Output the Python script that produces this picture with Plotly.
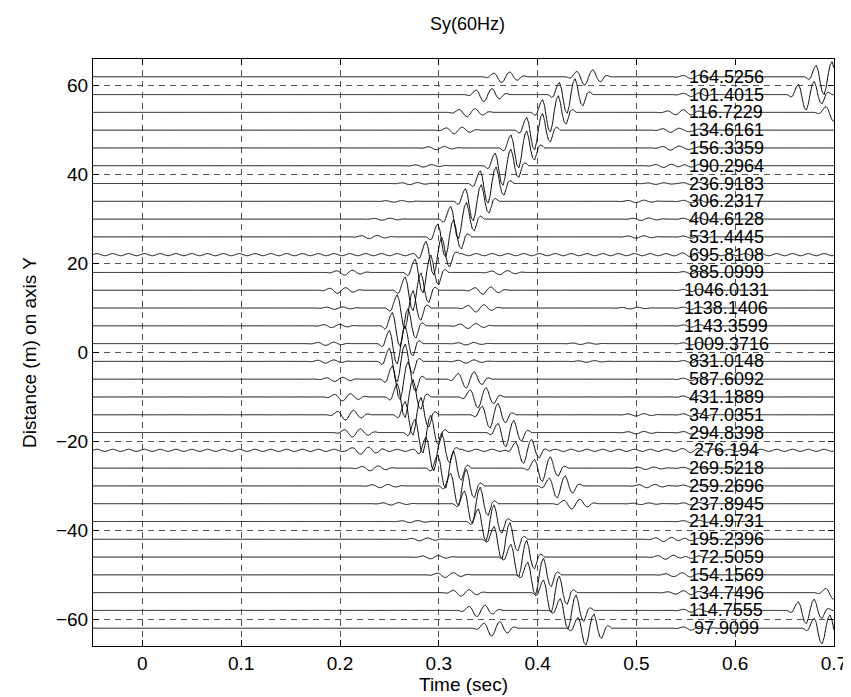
import numpy as np
import plotly.graph_objects as go

# ---------------- data ----------------
offsets = [62, 58, 54, 50, 46, 42, 38, 34, 30, 26, 22, 18, 14, 10, 6, 2,
           -2, -6, -10, -14, -18, -22, -26, -30, -34, -38, -42, -46, -50, -54, -58, -62]

amp_labels = ["164.5256", "101.4015", "116.7229", "134.6161", "156.3359", "190.2964",
              "236.9183", "306.2317", "404.6128", "531.4445", "695.8108", "885.0999",
              "1046.0131", "1138.1406", "1143.3599", "1009.3716", "831.0148", "587.6092",
              "431.1889", "347.0351", "294.8398", "276.194", "269.5218", "259.2696",
              "237.8945", "214.9731", "195.2396", "172.5059", "154.1569", "134.7496",
              "114.7555", "97.9099"]

# normalised wavelet shape, sampled every 2 ms (deepest trough at 20 ms)
wavelet = [0.0, -0.05, -0.15, -0.1, 0.2, 0.5, 0.65, 0.35, -0.3, -0.85, -1.0, -0.6,
           0.1, 0.65, 0.85, 0.5, -0.1, -0.5, -0.6, -0.3, 0.05, 0.15, 0.1, 0.0]
wavelet_dt = 0.002
wavelet_trough = 0.020

# main arrival: trough time (s) and trough depth (m)
main_t = [0.448, 0.430, 0.413, 0.397, 0.381, 0.365, 0.350, 0.335, 0.320, 0.307, 0.295,
          0.284, 0.274, 0.266, 0.261, 0.258, 0.258, 0.261, 0.266, 0.274, 0.284, 0.295,
          0.307, 0.320, 0.334, 0.348, 0.364, 0.381, 0.398, 0.414, 0.431, 0.449]
main_a = [1.9, 4.2, 4.4, 4.4, 4.5, 4.4, 4.4, 4.4, 4.4, 4.5, 4.5, 4.6, 4.6, 4.6, 4.6, 4.6,
          4.6, 4.6, 4.6, 4.6, 4.6, 4.5, 4.5, 4.4, 4.4, 4.4, 4.4, 4.4, 4.4, 4.4, 4.1, 3.8]

# early weak arrival
pre_t = [0.364, 0.346, 0.329, 0.316, 0.298, 0.285, 0.271, 0.255, 0.243, 0.230, 0.220,
         0.205, 0.198, 0.195, 0.192, 0.186, 0.186, 0.195, 0.203, 0.206, 0.213, 0.222,
         0.231, 0.241, 0.252, 0.271, 0.281, 0.292, 0.307, 0.323, 0.339, 0.354]
pre_a = [1.3, 1.6, 1.0, 0.8, 0.4, 0.3, 0.25, 0.2, 0.25, 0.4, 0.0, 0.6, 0.7, 0.3, 0.4, 0.4,
         0.4, 0.5, 0.9, 1.2, 1.0, 0.8, 0.6, 0.4, 0.3, 0.25, 0.35, 0.4, 0.6, 0.8, 1.4, 1.8]

# second strong arrival (lower-centre traces)
sec_t = [0.0, 0.0, 0.0, 0.0, 0.0, 0.0, 0.0, 0.0, 0.0, 0.0, 0.0, 0.362, 0.345, 0.338,
         0.330, 0.328, 0.328, 0.328, 0.340, 0.352, 0.368, 0.386, 0.405, 0.420, 0.435,
         0.0, 0.0, 0.0, 0.0, 0.0, 0.0, 0.0]
sec_a = [0.0, 0.0, 0.0, 0.0, 0.0, 0.0, 0.0, 0.0, 0.0, 0.0, 0.0, 0.5, 0.9, 0.9, 0.6, 0.3,
         0.4, 2.0, 2.5, 3.0, 3.2, 3.2, 3.0, 2.7, 1.2, 0.0, 0.0, 0.0, 0.0, 0.0, 0.0, 0.0]

# late weak arrival
late_t = [0.535, 0.535, 0.540, 0.535, 0.535, 0.528, 0.520, 0.500, 0.505, 0.500, 0.0,
          0.0, 0.0, 0.494, 0.0, 0.444, 0.450, 0.0, 0.0, 0.500, 0.500, 0.0, 0.510, 0.511,
          0.505, 0.0, 0.528, 0.530, 0.538, 0.540, 0.0, 0.0]
late_a = [0.0, 0.0, 0.5, 0.5, 0.5, 0.4, 0.2, 0.3, 0.3, 0.3, 0.0, 0.0, 0.0, 0.2, 0.0, 0.2,
          0.2, 0.0, 0.0, 0.3, 0.3, 0.0, 0.3, 0.4, 0.2, 0.0, 0.5, 0.5, 0.4, 0.3, 0.0, 0.0]

# small wiggle just before each label
tail_t = [0.556] * 32
tail_a = [0.45, 0.45, 0.3, 0.3, 0.3, 0.3, 0.3, 0.35, 0.3, 0.3, 0.3, 0.3, 0.3, 0.3, 0.3, 0.3,
          0.3, 0.35, 0.35, 0.35, 0.35, 0.3, 0.3, 0.3, 0.3, 0.3, 0.3, 0.3, 0.3, 0.3, 0.4, 0.45]

# strong arrivals at the right edge (outer traces)
wrap_t = [0.690, 0.672, 0.700, 0.0, 0.0, 0.0, 0.0, 0.0, 0.0, 0.0, 0.0, 0.0, 0.0, 0.0,
          0.0, 0.0, 0.0, 0.0, 0.0, 0.0, 0.0, 0.0, 0.0, 0.0, 0.0, 0.0, 0.0, 0.0, 0.0,
          0.700, 0.672, 0.688]
wrap_a = [4.0, 3.5, 2.0, 0.0, 0.0, 0.0, 0.0, 0.0, 0.0, 0.0, 0.0, 0.0, 0.0, 0.0, 0.0,
          0.0, 0.0, 0.0, 0.0, 0.0, 0.0, 0.0, 0.0, 0.0, 0.0, 0.0, 0.0, 0.0, 0.0,
          1.5, 3.0, 3.5]

# continuous ripple (one cycle, 2 ms samples) present on two traces
ripple_cycle = [0.0, 0.17, 0.25, 0.17, 0.0, -0.17, -0.25, -0.17]
ripple_a = [0.0] * 10 + [1.0] + [0.0] * 10 + [1.0] + [0.0] * 10

x_ticks = [0, 0.1, 0.2, 0.3, 0.4, 0.5, 0.6, 0.7]
y_ticks = [-60, -40, -20, 0, 20, 40, 60]

# ---------------- build traces ----------------
t = np.round(np.arange(-0.05, 0.70001, 0.001), 4)
wt = np.arange(len(wavelet)) * wavelet_dt
wv = np.array(wavelet)


def place(t_trough, a):
    if a == 0 or t_trough == 0:
        return np.zeros_like(t)
    return a * np.interp(t - (t_trough - wavelet_trough), wt, wv, left=0.0, right=0.0)


rip = np.array(ripple_cycle)
rip_full = np.interp((t + 0.05) / wavelet_dt % len(rip), np.arange(len(rip) + 1),
                     np.append(rip, rip[0]))

FONT = "Liberation Sans, Arial"

fig = go.Figure()
for i, off in enumerate(offsets):
    y = np.full_like(t, float(off))
    y += place(main_t[i], main_a[i])
    y += place(pre_t[i], pre_a[i])
    y += place(sec_t[i], sec_a[i])
    y += place(late_t[i], late_a[i])
    y += place(tail_t[i], tail_a[i])
    y += place(wrap_t[i], wrap_a[i])
    y += ripple_a[i] * rip_full
    fig.add_trace(go.Scatter(x=t, y=y, mode="lines",
                             line=dict(color="black", width=1, shape="spline", smoothing=0.5),
                             hoverinfo="skip", showlegend=False, cliponaxis=True))

for i, off in enumerate(offsets):
    fig.add_annotation(x=0.591, y=off, text=amp_labels[i], showarrow=False,
                       xanchor="center", yanchor="middle",
                       font=dict(family=FONT, size=18, color="black"))

axis_common = dict(showline=True, linecolor="black", linewidth=1, mirror="ticks",
                   ticks="inside", ticklen=6, tickcolor="black",
                   showgrid=True, gridcolor="#555555", gridwidth=1, griddash="6px,5px",
                   zeroline=False,
                   tickfont=dict(family=FONT, size=19, color="black"))

fig.update_xaxes(range=[-0.05, 0.7], tickvals=x_ticks, ticktext=[str(v) for v in x_ticks],
                 title=dict(text="Time (sec)", standoff=2,
                            font=dict(family=FONT, size=19, color="black")),
                 **axis_common)
fig.update_yaxes(range=[-66, 66], tickvals=y_ticks,
                 title=dict(text="Distance (m) on axis Y", standoff=14,
                            font=dict(family=FONT, size=19, color="black")),
                 **axis_common)

fig.update_layout(width=851, height=697,
                  margin=dict(l=85, r=17, t=51, b=59),
                  paper_bgcolor="white", plot_bgcolor="white",
                  title=dict(text="Sy(60Hz)", x=0.54, xanchor="center", y=0.977, yanchor="middle",
                             font=dict(family=FONT, size=18, color="black")))

fig.write_html("out.html")
